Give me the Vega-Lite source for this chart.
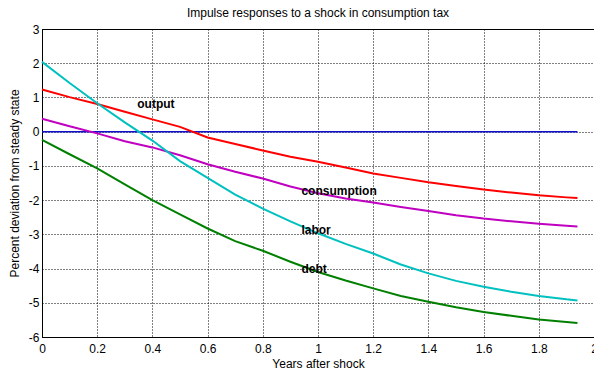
{
  "$schema": "https://vega.github.io/schema/vega-lite/v6.json",
  "width": 552,
  "height": 308,
  "autosize": {"type": "none"},
  "padding": {"left": 42, "top": 29, "right": 0, "bottom": 38},
  "background": "white",
  "config": {
    "font": "Liberation Sans",
    "view": {"stroke": "black", "strokeWidth": 1},
    "axis": {
      "domainColor": "black",
      "gridColor": "black",
      "gridDash": [1, 2],
      "gridOpacity": 1,
      "gridWidth": 1,
      "tickColor": "black",
      "labelColor": "black",
      "labelFontSize": 12,
      "titleFontSize": 12,
      "titleFontWeight": "normal",
      "titleColor": "black",
      "labelFont": "Liberation Sans",
      "titleFont": "Liberation Sans"
    }
  },
  "title": {
    "text": "Impulse responses to a shock in consumption tax",
    "fontSize": 12,
    "fontWeight": "normal",
    "font": "Liberation Sans",
    "color": "black",
    "offset": 3
  },
  "datasets": {
    "series": [
      {"x": 0, "output": 1.23, "consumption": 0.38, "labor": 2.04, "debt": -0.24},
      {"x": 0.1, "output": 1.01, "consumption": 0.16, "labor": 1.42, "debt": -0.66},
      {"x": 0.2, "output": 0.81, "consumption": -0.05, "labor": 0.83, "debt": -1.07},
      {"x": 0.3, "output": 0.58, "consumption": -0.28, "labor": 0.27, "debt": -1.54},
      {"x": 0.4, "output": 0.36, "consumption": -0.46, "labor": -0.26, "debt": -2.0},
      {"x": 0.5, "output": 0.14, "consumption": -0.69, "labor": -0.86, "debt": -2.42},
      {"x": 0.6, "output": -0.17, "consumption": -0.95, "labor": -1.35, "debt": -2.83},
      {"x": 0.7, "output": -0.36, "consumption": -1.17, "labor": -1.84, "debt": -3.2},
      {"x": 0.8, "output": -0.55, "consumption": -1.37, "labor": -2.25, "debt": -3.48},
      {"x": 0.9, "output": -0.73, "consumption": -1.6, "labor": -2.62, "debt": -3.8},
      {"x": 1.0, "output": -0.88, "consumption": -1.8, "labor": -2.97, "debt": -4.1},
      {"x": 1.1, "output": -1.05, "consumption": -1.95, "labor": -3.28, "debt": -4.35},
      {"x": 1.2, "output": -1.22, "consumption": -2.07, "labor": -3.56, "debt": -4.58},
      {"x": 1.3, "output": -1.35, "consumption": -2.2, "labor": -3.88, "debt": -4.8},
      {"x": 1.4, "output": -1.48, "consumption": -2.32, "labor": -4.14, "debt": -4.97},
      {"x": 1.5, "output": -1.59, "consumption": -2.44, "labor": -4.36, "debt": -5.13},
      {"x": 1.6, "output": -1.69, "consumption": -2.54, "labor": -4.53, "debt": -5.27},
      {"x": 1.7, "output": -1.78, "consumption": -2.62, "labor": -4.68, "debt": -5.38},
      {"x": 1.8, "output": -1.86, "consumption": -2.69, "labor": -4.8, "debt": -5.49},
      {"x": 1.9, "output": -1.92, "consumption": -2.75, "labor": -4.9, "debt": -5.56},
      {"x": 1.94, "output": -1.94, "consumption": -2.77, "labor": -4.93, "debt": -5.59}
    ],
    "zero": [
      {"x": 0, "y": 0},
      {"x": 1.94, "y": 0}
    ],
    "labels": [
      {"x": 0.345, "y": 0.8, "label": "output"},
      {"x": 0.94, "y": -1.72, "label": "consumption"},
      {"x": 0.94, "y": -2.86, "label": "labor"},
      {"x": 0.94, "y": -4.0, "label": "debt"}
    ]
  },
  "encoding": {
    "x": {
      "field": "x", "type": "quantitative",
      "scale": {"domain": [0, 2], "nice": false},
      "axis": {
        "title": "Years after shock",
        "values": [0, 0.2, 0.4, 0.6, 0.8, 1, 1.2, 1.4, 1.6, 1.8, 2],
        "format": "~g",
        "tickSize": 0,
        "labelPadding": 6,
        "titlePadding": 4,
        "labelFlush": false,
        "labelOverlap": false
      }
    },
    "y": {
      "field": "y", "type": "quantitative",
      "scale": {"domain": [-6, 3], "nice": false},
      "axis": {
        "title": "Percent deviation from steady state",
        "values": [-6, -5, -4, -3, -2, -1, 0, 1, 2, 3],
        "labelExpr": "'' + datum.value",
        "tickSize": 0,
        "labelPadding": 3,
        "titlePadding": 7,
        "labelFlush": false,
        "labelOverlap": false
      }
    }
  },
  "layer": [
    {
      "data": {"name": "zero"},
      "mark": {"type": "line", "color": "#1010c8", "strokeWidth": 1.5}
    },
    {
      "data": {"name": "series"},
      "transform": [
        {"fold": ["output", "consumption", "labor", "debt"], "as": ["series", "y"]}
      ],
      "mark": {"type": "line", "strokeWidth": 2},
      "encoding": {
        "color": {
          "field": "series", "type": "nominal",
          "scale": {
            "domain": ["output", "consumption", "labor", "debt"],
            "range": ["#ff0000", "#c000c0", "#00c0c0", "#008000"]
          },
          "legend": null
        }
      }
    },
    {
      "data": {"name": "labels"},
      "mark": {"type": "text", "align": "left", "baseline": "middle", "fontWeight": "bold", "fontSize": 12, "font": "Liberation Sans", "color": "black"},
      "encoding": {
        "text": {"field": "label"}
      }
    }
  ]
}
